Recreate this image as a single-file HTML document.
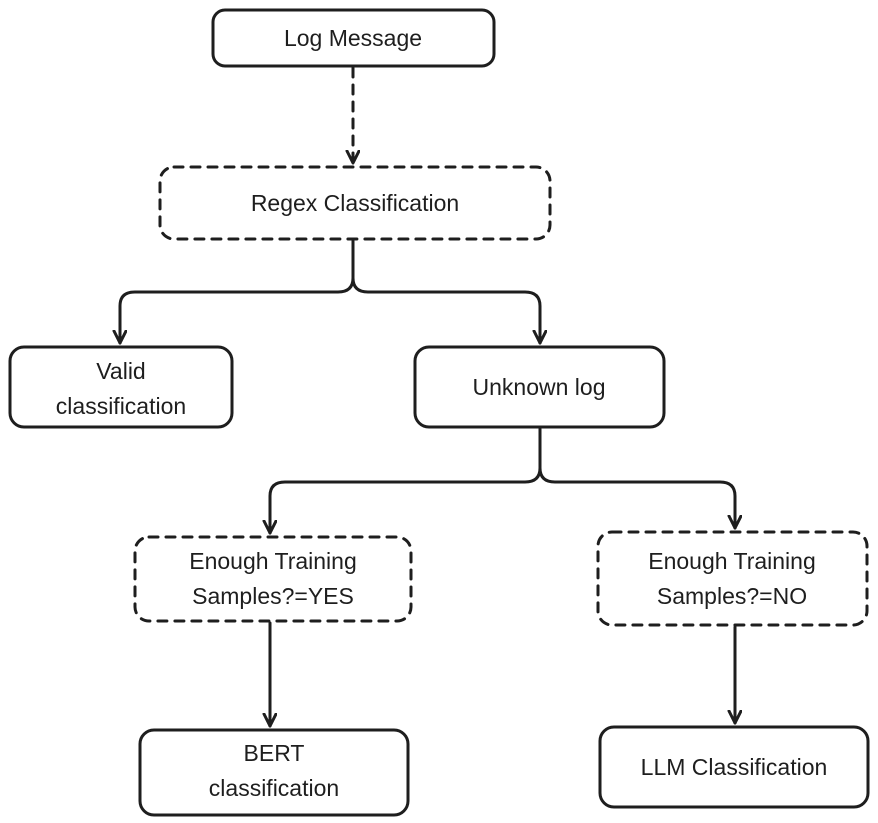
<!DOCTYPE html>
<html><head><meta charset="utf-8"><style>
html,body{margin:0;padding:0;background:#fff;width:878px;height:823px;overflow:hidden}
svg{display:block}
text{font-family:"Liberation Sans",sans-serif;font-size:23px;fill:#1e1e1e;text-anchor:middle}
</style></head><body>
<svg width="878" height="823" viewBox="0 0 878 823">
<defs><marker id="a" markerWidth="16" markerHeight="16" refX="13" refY="7" orient="auto" markerUnits="userSpaceOnUse">
<path d="M1,1 L13,7 L1,13" fill="none" stroke="#1e1e1e" stroke-width="3" stroke-linecap="round" stroke-linejoin="round"/></marker></defs>
<g fill="none" stroke="#1e1e1e" stroke-width="3" stroke-linecap="round" stroke-linejoin="round">
<rect x="213" y="10" width="281" height="56" rx="12"/>
<rect x="160" y="167" width="390" height="72" rx="14" stroke-dasharray="9 8"/>
<rect x="10" y="347" width="222" height="80" rx="14"/>
<rect x="415" y="347" width="249" height="80" rx="14"/>
<rect x="135" y="537" width="276" height="84" rx="14" stroke-dasharray="9 8"/>
<rect x="598" y="532" width="269" height="93" rx="14" stroke-dasharray="9 8"/>
<rect x="140" y="730" width="268" height="85" rx="14"/>
<rect x="600" y="727" width="268" height="80" rx="14"/>
<path d="M353,68 L353,163" stroke-dasharray="9 8" marker-end="url(#a)"/>
<path d="M353,241 L353,278 Q353,292 338,292 L135,292 Q120,292 120,306 L120,343" marker-end="url(#a)"/>
<path d="M353,278 Q353,292 368,292 L525,292 Q540,292 540,306 L540,343" marker-end="url(#a)"/>
<path d="M540,429 L540,468 Q540,482 525,482 L285,482 Q270,482 270,496 L270,533" marker-end="url(#a)"/>
<path d="M540,468 Q540,482 555,482 L720,482 Q735,482 735,496 L735,528" marker-end="url(#a)"/>
<path d="M270,623 L270,726" marker-end="url(#a)"/>
<path d="M735,627 L735,723" marker-end="url(#a)"/>
</g>
<text x="353" y="46">Log Message</text>
<text x="355" y="211">Regex Classification</text>
<text x="121" y="379">Valid</text>
<text x="121" y="414">classification</text>
<text x="539" y="395">Unknown log</text>
<text x="273" y="569">Enough Training</text>
<text x="273" y="604">Samples?=YES</text>
<text x="732" y="569">Enough Training</text>
<text x="732" y="604">Samples?=NO</text>
<text x="274" y="761">BERT</text>
<text x="274" y="796">classification</text>
<text x="734" y="775">LLM Classification</text>
</svg>
</body></html>
